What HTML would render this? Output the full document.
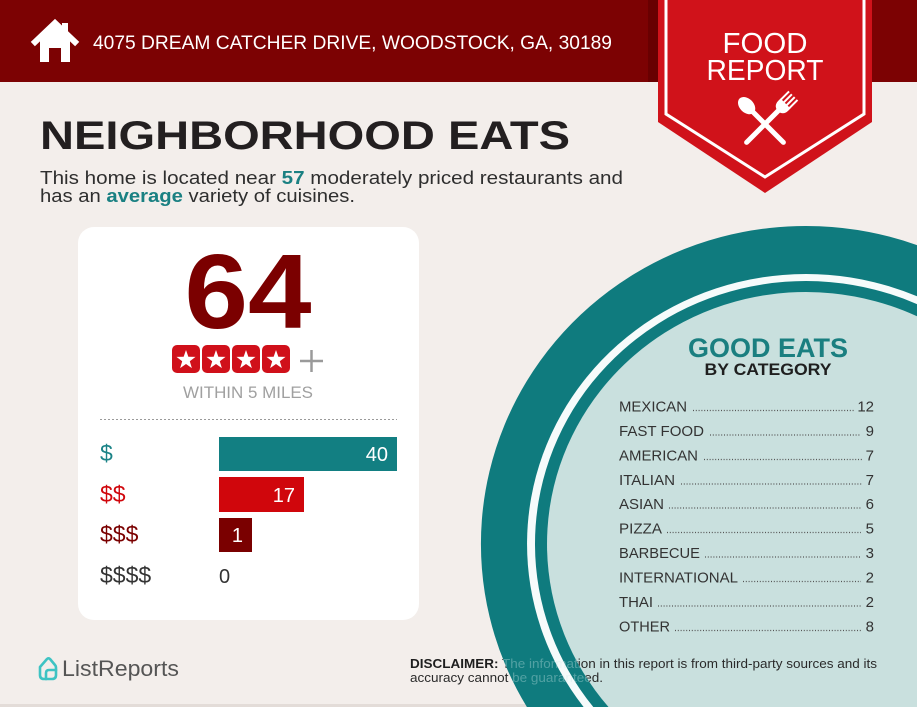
<!DOCTYPE html>
<html>
<head>
<meta charset="utf-8">
<style>
  html, body { margin: 0; padding: 0; background: #f3eeeb; width: 917px; height: 707px; overflow: hidden; }
  svg { display: block; }
  text { font-family: "Liberation Sans", Arial, sans-serif; }
</style>
</head>
<body>
<svg width="917" height="707" viewBox="0 0 917 707" xmlns="http://www.w3.org/2000/svg">
  <defs>
    <polygon id="star" points="0,-10 2.35,-3.24 9.51,-3.09 3.8,1.24 5.88,8.09 0,4 -5.88,8.09 -3.8,1.24 -9.51,-3.09 -2.35,-3.24" fill="#ffffff"/>
    <clipPath id="outerclip"><path d="M917,245.1 A325,318 0 0,0 526.9,707 L917,707 Z"/></clipPath>
    <clipPath id="fillclip"><path d="M917,316.3 A259,252 0 0,0 608.5,707 L917,707 Z"/></clipPath>
  </defs>

  <!-- background -->
  <rect x="0" y="0" width="917" height="707" fill="#f3eeeb"/>
  <rect x="0" y="704" width="917" height="3" fill="#e3dcd8"/>

  <!-- header -->
  <rect x="0" y="0" width="917" height="82" fill="#7c0203"/>
  <rect x="648" y="0" width="10" height="82" fill="#5e0000" opacity="0.6"/>

  <!-- house icon -->
  <g fill="#ffffff">
    <rect x="62" y="23" width="6" height="11"/>
    <polyline points="35,42 55,23 75,42" fill="none" stroke="#ffffff" stroke-width="6" stroke-linecap="square" stroke-linejoin="miter"/>
    <polygon points="40,39 55,26 70,39 70,62 61,62 61,48 49,48 49,62 40,62"/>
  </g>
  <text x="93" y="49" font-size="19" fill="#ffffff" textLength="519" lengthAdjust="spacingAndGlyphs">4075 DREAM CATCHER DRIVE, WOODSTOCK, GA, 30189</text>

  <!-- ribbon -->
  <polygon points="658,0 872,0 872,122 765,193 658,122" fill="#d0121a"/>
  <polyline points="666,0 666,114 765,177 864,114 864,0" fill="none" stroke="#ffffff" stroke-width="3"/>
  <text x="765" y="53" font-size="29" fill="#ffffff" text-anchor="middle" textLength="85" lengthAdjust="spacingAndGlyphs">FOOD</text>
  <text x="765" y="80" font-size="29" fill="#ffffff" text-anchor="middle" textLength="117" lengthAdjust="spacingAndGlyphs">REPORT</text>
  <!-- spoon -->
  <g transform="translate(765,124) rotate(-45)" fill="#ffffff">
    <ellipse cx="0" cy="-26" rx="7" ry="10"/>
    <line x1="0" y1="-18" x2="0" y2="26" stroke="#ffffff" stroke-width="5" stroke-linecap="round"/>
  </g>
  <!-- fork -->
  <g transform="translate(765,124) rotate(45)" fill="#ffffff">
    <path d="M-7,-29 L7,-29 L7,-26 Q7,-19 0,-18 Q-7,-19 -7,-26 Z"/>
    <rect x="-7" y="-40" width="2" height="12"/>
    <rect x="-3" y="-40" width="2" height="12"/>
    <rect x="1" y="-40" width="2" height="12"/>
    <rect x="5" y="-40" width="2" height="12"/>
    <line x1="0" y1="-19" x2="0" y2="26" stroke="#ffffff" stroke-width="5" stroke-linecap="round"/>
  </g>

  <!-- title -->
  <text x="40" y="149" font-size="40" font-weight="bold" fill="#231f20" textLength="530" lengthAdjust="spacingAndGlyphs">NEIGHBORHOOD EATS</text>
  <text x="40" y="184" font-size="18" fill="#2e2e2e" textLength="583" lengthAdjust="spacingAndGlyphs">This home is located near <tspan font-weight="bold" fill="#1a8082">57</tspan> moderately priced restaurants and</text>
  <text x="40" y="202" font-size="18" fill="#2e2e2e" textLength="315" lengthAdjust="spacingAndGlyphs">has an <tspan font-weight="bold" fill="#1a8082">average</tspan> variety of cuisines.</text>

  <!-- card -->
  <rect x="78" y="227" width="341" height="393" rx="16" ry="16" fill="#ffffff"/>
  <text x="248" y="328" font-size="106" font-weight="bold" fill="#7b0000" text-anchor="middle" textLength="127" lengthAdjust="spacingAndGlyphs">64</text>

  <g>
    <rect x="172" y="345" width="28" height="28" rx="5" fill="#d0101a"/>
    <rect x="202" y="345" width="28" height="28" rx="5" fill="#d0101a"/>
    <rect x="232" y="345" width="28" height="28" rx="5" fill="#d0101a"/>
    <rect x="262" y="345" width="28" height="28" rx="5" fill="#d0101a"/>
    <use href="#star" x="186" y="360"/>
    <use href="#star" x="216" y="360"/>
    <use href="#star" x="246" y="360"/>
    <use href="#star" x="276" y="360"/>
    <line x1="300" y1="361" x2="323" y2="361" stroke="#9a9a9a" stroke-width="2.5"/>
    <line x1="311.5" y1="350" x2="311.5" y2="372" stroke="#9a9a9a" stroke-width="2.5"/>
  </g>
  <text x="248" y="398" font-size="17" fill="#a0a0a0" text-anchor="middle" textLength="130" lengthAdjust="spacingAndGlyphs">WITHIN 5 MILES</text>

  <line x1="100" y1="419.5" x2="397" y2="419.5" stroke="#9a9a9a" stroke-width="1" stroke-dasharray="2,2"/>

  <!-- bars -->
  <rect x="219" y="437" width="178" height="34" fill="#127f82"/>
  <text x="388" y="461" font-size="20" fill="#ffffff" text-anchor="end">40</text>
  <rect x="219" y="477" width="85" height="35" fill="#d0060c"/>
  <text x="295" y="502" font-size="20" fill="#ffffff" text-anchor="end">17</text>
  <rect x="219" y="518" width="33" height="34" fill="#7a0000"/>
  <text x="243" y="542" font-size="20" fill="#ffffff" text-anchor="end">1</text>
  <text x="219" y="583" font-size="20" fill="#333333">0</text>

  <text x="100" y="461" font-size="23" fill="#1b8387">$</text>
  <text x="100" y="502" font-size="23" fill="#d0060c">$$</text>
  <text x="100" y="542" font-size="23" fill="#7a0000">$$$</text>
  <text x="100" y="583" font-size="23" fill="#333333">$$$$</text>

  <!-- disclaimer (under circle) -->
  <text x="410" y="668" font-size="13" fill="#2a2a2a" textLength="467" lengthAdjust="spacingAndGlyphs"><tspan font-weight="bold" fill="#1e1e1e">DISCLAIMER:</tspan> The information in this report is from third-party sources and its</text>
  <text x="410" y="682" font-size="13" fill="#2a2a2a" textLength="193" lengthAdjust="spacingAndGlyphs">accuracy cannot be guaranteed.</text>

  <!-- circle rings (clipped to frame) -->
  <path d="M917,245.1 A325,318 0 0,0 526.9,707 L917,707 Z" fill="#0f7b7e"/>
  <path d="M917,296.3 A279,270 0 0,0 583.6,707 L917,707 Z" fill="#f6fbfb"/>
  <path d="M917,304.1 A271,263 0 0,0 593.3,707 L917,707 Z" fill="#0f7b7e"/>
  <path d="M917,316.3 A259,252 0 0,0 608.5,707 L917,707 Z" fill="#c9e0de"/>

  <!-- disclaimer portion over teal ring (lighter, as in reference) -->
  <g opacity="0.35" clip-path="url(#outerclip)">
    <text x="410" y="668" font-size="13" fill="#cfe8e8" textLength="467" lengthAdjust="spacingAndGlyphs"><tspan font-weight="bold">DISCLAIMER:</tspan> The information in this report is from third-party sources and its</text>
    <text x="410" y="682" font-size="13" fill="#cfe8e8" textLength="193" lengthAdjust="spacingAndGlyphs">accuracy cannot be guaranteed.</text>
  </g>
  <!-- disclaimer over light fill region -->
  <g clip-path="url(#fillclip)">
    <text x="410" y="668" font-size="13" fill="#2a2a2a" textLength="467" lengthAdjust="spacingAndGlyphs"><tspan font-weight="bold" fill="#1e1e1e">DISCLAIMER:</tspan> The information in this report is from third-party sources and its</text>
    <text x="410" y="682" font-size="13" fill="#2a2a2a" textLength="193" lengthAdjust="spacingAndGlyphs">accuracy cannot be guaranteed.</text>
  </g>

  <text x="768" y="357" font-size="27" font-weight="bold" fill="#1a7f80" text-anchor="middle" textLength="160" lengthAdjust="spacingAndGlyphs">GOOD EATS</text>
  <text x="768" y="375" font-size="17" font-weight="bold" fill="#1f1f1f" text-anchor="middle" textLength="127" lengthAdjust="spacingAndGlyphs">BY CATEGORY</text>

  <!-- category list -->
  <g font-size="15" fill="#333333">
    <text x="619" y="411.5" textLength="68" lengthAdjust="spacingAndGlyphs">MEXICAN</text>
    <text x="874" y="411.5" text-anchor="end">12</text>
    <text x="619" y="436" textLength="85" lengthAdjust="spacingAndGlyphs">FAST FOOD</text>
    <text x="874" y="436" text-anchor="end">9</text>
    <text x="619" y="460.5" textLength="79" lengthAdjust="spacingAndGlyphs">AMERICAN</text>
    <text x="874" y="460.5" text-anchor="end">7</text>
    <text x="619" y="485" textLength="56" lengthAdjust="spacingAndGlyphs">ITALIAN</text>
    <text x="874" y="485" text-anchor="end">7</text>
    <text x="619" y="509" textLength="45" lengthAdjust="spacingAndGlyphs">ASIAN</text>
    <text x="874" y="509" text-anchor="end">6</text>
    <text x="619" y="533.5" textLength="43" lengthAdjust="spacingAndGlyphs">PIZZA</text>
    <text x="874" y="533.5" text-anchor="end">5</text>
    <text x="619" y="558" textLength="81" lengthAdjust="spacingAndGlyphs">BARBECUE</text>
    <text x="874" y="558" text-anchor="end">3</text>
    <text x="619" y="582.5" textLength="119" lengthAdjust="spacingAndGlyphs">INTERNATIONAL</text>
    <text x="874" y="582.5" text-anchor="end">2</text>
    <text x="619" y="607" textLength="34" lengthAdjust="spacingAndGlyphs">THAI</text>
    <text x="874" y="607" text-anchor="end">2</text>
    <text x="619" y="631.5" textLength="51" lengthAdjust="spacingAndGlyphs">OTHER</text>
    <text x="874" y="631.5" text-anchor="end">8</text>
  </g>
  <g stroke="#555555" stroke-width="1.2" stroke-dasharray="1,1.8">
    <line x1="693" y1="410.5" x2="854" y2="410.5"/>
    <line x1="710" y1="435" x2="861" y2="435"/>
    <line x1="704" y1="459.5" x2="862" y2="459.5"/>
    <line x1="681" y1="484" x2="862" y2="484"/>
    <line x1="669" y1="508" x2="861" y2="508"/>
    <line x1="667" y1="532.5" x2="861" y2="532.5"/>
    <line x1="705" y1="557" x2="861" y2="557"/>
    <line x1="743" y1="581.5" x2="861" y2="581.5"/>
    <line x1="658" y1="606" x2="861" y2="606"/>
    <line x1="675" y1="630.5" x2="861" y2="630.5"/>
  </g>

  <!-- ListReports logo -->
  <g fill="none" stroke="#3ec3c3" stroke-width="2.6" stroke-linejoin="round" stroke-linecap="round">
    <path d="M40,667 L47,659 Q48.5,657.5 50,659 L55,665 Q56,666 56,668 L56,675 Q56,679 52,679 L44,679 Q40,679 40,675 Z"/>
    <path d="M46,679 L46,673 Q46,670 49,670 L56,670"/>
  </g>
  <text x="62" y="676" font-size="22" fill="#555555" textLength="117" lengthAdjust="spacingAndGlyphs">ListReports</text>
</svg>
</body>
</html>
